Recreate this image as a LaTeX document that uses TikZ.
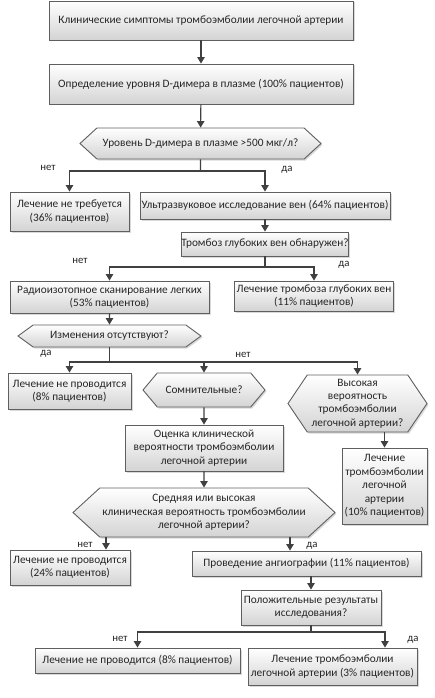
\documentclass[tikz,border=0pt]{standalone}
\usepackage{fontspec}
\setmainfont{Carlito}
\usepackage{xcolor}
\usepackage{tikz}
\usetikzlibrary{shapes.symbols,shadows,arrows.meta}
\definecolor{Edge-Gray}{RGB}{64,64,64}
\definecolor{Box-Line}{RGB}{95,95,95}
\tikzstyle{blk}=[rectangle,draw=Box-Line,line width=0.9pt,top color=white,bottom color=black!17,drop shadow={shadow xshift=1.5pt,shadow yshift=-1.5pt,opacity=0.3},align=center,inner sep=0pt,text=black!85,font=\fontsize{11.3}{13.4}\selectfont]
\tikzstyle{hex}=[blk,signal,signal to=west and east,signal pointer angle=90]
\tikzstyle{arr}=[draw=Edge-Gray,line width=1.1pt,-{Triangle[length=6.5pt,width=7.5pt]}]
\tikzstyle{ln}=[draw=Edge-Gray,line width=1.1pt]
\tikzset{lbl/.style={inner sep=0pt,text=black!85,font=\fontsize{10.8}{12}\selectfont}}

\begin{document}
\begin{tikzpicture}[x=1pt,y=-1pt]
\useasboundingbox (0,0) rectangle (434,698);

% Nodes
\node[blk,minimum width=304pt,minimum height=39pt] (symptoms) at (201,20.5) {Клинические симптомы тромбоэмболии легочной артерии};
\node[blk,minimum width=304pt,minimum height=40pt] (ddimer)   at (201,84)   {Определение уровня D-димера в плазме (100\% пациентов)};
\node[hex,minimum width=241pt,minimum height=31pt,signal pointer angle=85] (dlevel) at (200.5,143.5) {Уровень D-димера в плазме >500 мкг/л?};
\node[blk,minimum width=119pt,minimum height=39pt] (notreat1)   at (69.5,211.5) {Лечение не требуется\\(36\% пациентов)};
\node[blk,minimum width=250pt,minimum height=27pt] (ultrasound) at (265,205.5)  {Ультразвуковое исследование вен (64\% пациентов)};
\node[blk,minimum width=167pt,minimum height=24pt] (dvt)        at (265,244)    {Тромбоз глубоких вен обнаружен?};
\node[blk,minimum width=199pt,minimum height=32pt] (scan)       at (109.5,297)  {Радиоизотопное сканирование легких\\(53\% пациентов)};
\node[blk,minimum width=159pt,minimum height=30pt] (treatdvt)   at (314,296)    {Лечение тромбоза глубоких вен\\(11\% пациентов)};
\node[hex,minimum width=183pt,minimum height=22pt,signal pointer angle=72]  (changes)  at (109.5,336) {Изменения отсутствуют?};
\node[blk,minimum width=123pt,minimum height=36pt] (notreat2)   at (69.5,391)   {Лечение не проводится\\(8\% пациентов)};
\node[hex,minimum width=122pt,minimum height=34pt,signal pointer angle=100] (doubt)    at (204,390)   {Сомнительные?};
\node[hex,minimum width=139pt,minimum height=57pt,signal pointer angle=112] (highprob) at (357.5,403.5) {Высокая\\вероятность\\тромбоэмболии\\легочной артерии?};
\node[blk,minimum width=158pt,minimum height=46pt] (clinical)   at (204,448)    {Оценка клинической\\вероятности тромбоэмболии\\легочной артерии};
\node[blk,minimum width=85pt,minimum height=76pt]  (treatpe1)   at (384.5,486)  {Лечение\\тромбоэмболии\\легочной\\артерии\\(10\% пациентов)};
\node[hex,minimum width=262pt,minimum height=49pt,signal pointer angle=85]  (midhigh)  at (204,512.5) {Средняя или высокая\\клиническая вероятность тромбоэмболии\\легочной артерии?};
\node[blk,minimum width=120pt,minimum height=35pt] (notreat3)   at (70,567.5)   {Лечение не проводится\\(24\% пациентов)};
\node[blk,minimum width=229pt,minimum height=25pt] (angio)      at (306.5,563.5) {Проведение ангиографии (11\% пациентов)};
\node[blk,minimum width=140pt,minimum height=35pt] (result)     at (311,607.5)  {Положительные результаты\\исследования?};
\node[blk,minimum width=205pt,minimum height=25pt] (notreat4)   at (137.5,660.5) {Лечение не проводится (8\% пациентов)};
\node[blk,minimum width=169pt,minimum height=37pt] (treatpe2)   at (332.5,666.5) {Лечение тромбоэмболии\\легочной артерии (3\% пациентов)};

% Labels
\node[lbl] (no1)  at (48,168)  {нет};
\node[lbl] (yes1) at (287,170) {да};
\node[lbl] (no2)  at (80,261)  {нет};
\node[lbl] (yes2) at (344,265) {да};
\node[lbl] (yes3) at (46,354)  {да};
\node[lbl] (no3)  at (243,355) {нет};
\node[lbl] (no4)  at (85,545)  {нет};
\node[lbl] (yes4) at (312,546) {да};
\node[lbl] (no5)  at (120,639) {нет};
\node[lbl] (yes5) at (413,640) {да};

% Joints
\coordinate (j1) at (200.5,171);
\coordinate (j2) at (265,267);
\coordinate (j3) at (109.5,362);
\coordinate (j4) at (311,632);
\coordinate (n3in)  at ([xshift=36pt]notreat3.north);
\coordinate (a1in)  at ([xshift=-16.5pt]angio.north);
\coordinate (pe2in) at ([xshift=52.5pt]treatpe2.north);

% Edges
\draw[arr] (symptoms) -- (ddimer);
\draw[arr] (ddimer) -- (dlevel);
\draw[ln]  (dlevel) -- (j1);
\draw[arr] (j1) -| (notreat1);
\draw[arr] (j1) -| (ultrasound);
\draw[arr] (ultrasound) -- (dvt);
\draw[ln]  (dvt) -- (j2);
\draw[arr] (j2) -| (scan);
\draw[arr] (j2) -| (treatdvt);
\draw[arr] (scan) -- (changes);
\draw[ln]  (changes) -- (j3);
\draw[arr] (j3) -| (notreat2);
\draw[arr] (j3) -| (doubt);
\draw[arr] (j3) -| (highprob);
\draw[arr] (doubt) -- (clinical);
\draw[arr] (clinical) -- (midhigh);
\draw[arr] (highprob.south -| treatpe1) -- (treatpe1);
\draw[arr] (n3in |- midhigh.south) -- (n3in);
\draw[arr] (a1in |- midhigh.south) -- (a1in);
\draw[arr] (angio.south -| result) -- (result);
\draw[ln]  (result) -- (j4);
\draw[arr] (j4) -| (notreat4);
\draw[arr] (j4) -| (pe2in);

\end{tikzpicture}
\end{document}
